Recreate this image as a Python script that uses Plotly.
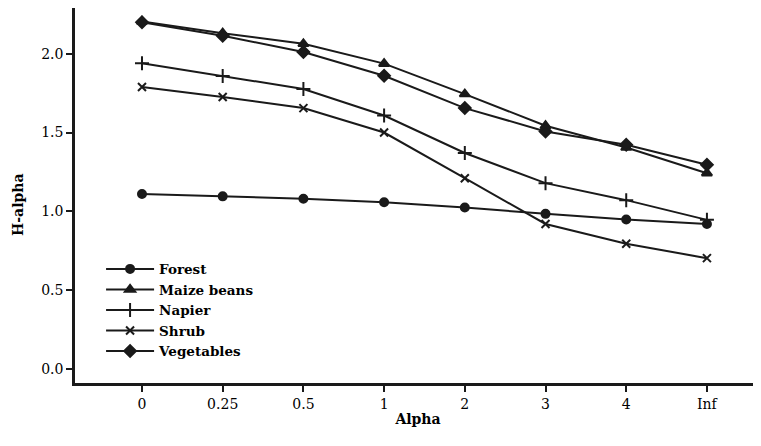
import plotly.graph_objects as go

alpha_labels = ["0", "0.25", "0.5", "1", "2", "3", "4", "Inf"]
forest = [1.11, 1.095, 1.08, 1.058, 1.024, 0.984, 0.948, 0.92]
maize_beans = [2.205, 2.13, 2.063, 1.937, 1.744, 1.543, 1.405, 1.242]
napier = [1.94, 1.858, 1.776, 1.608, 1.37, 1.179, 1.071, 0.946]
shrub = [1.789, 1.725, 1.655, 1.50, 1.21, 0.92, 0.794, 0.703]
vegetables = [2.20, 2.114, 2.011, 1.86, 1.655, 1.507, 1.422, 1.295]

series = [
    ("Forest", forest, "circle", 8),
    ("Maize beans", maize_beans, "triangle-up", 9),
    ("Napier", napier, "cross-thin", 10),
    ("Shrub", shrub, "x-thin", 8),
    ("Vegetables", vegetables, "diamond", 9),
]

col = "#1a1a1a"
fig = go.Figure()
for name, vals, sym, sz in series:
    fig.add_trace(go.Scatter(
        x=list(range(len(alpha_labels))), y=vals, name=name,
        mode="lines+markers",
        line=dict(color=col, width=2),
        marker=dict(symbol=sym, size=sz, color=col,
                    line=dict(color=col, width=2)),
    ))

font = "DejaVu Serif"
fig.update_layout(
    width=753, height=438,
    margin=dict(l=67, r=0, t=0, b=63),
    paper_bgcolor="white", plot_bgcolor="white",
    font=dict(family=font, size=14, color="black"),
    showlegend=True,
    legend=dict(x=0.038, y=0.345, xanchor="left", yanchor="top",
                bgcolor="rgba(0,0,0,0)",
                font=dict(family=font, size=13.5, color="black", weight="bold"),
                tracegroupgap=0, itemwidth=48),
    xaxis=dict(
        tickmode="array", tickvals=list(range(len(alpha_labels))),
        ticktext=alpha_labels, range=[-0.83, 7.67],
        showgrid=False, zeroline=False,
        showline=True, linecolor=col, linewidth=2.5,
        ticks="outside", ticklen=6, tickwidth=2, tickcolor=col,
        tickfont=dict(family=font, size=14),
        title=dict(text="Alpha", font=dict(family=font, size=14, weight="bold"), standoff=4),
    ),
    yaxis=dict(
        range=[-0.089, 2.29], tickvals=[0, 0.5, 1.0, 1.5, 2.0],
        tickformat=".1f",
        showgrid=False, zeroline=False,
        showline=True, linecolor=col, linewidth=2.5,
        ticks="outside", ticklen=6, tickwidth=2, tickcolor=col,
        tickfont=dict(family=font, size=14),
    ),
    annotations=[dict(
        text="H-alpha", textangle=-90, xref="paper", yref="paper",
        x=-0.083, y=0.475, xanchor="center", yanchor="middle",
        showarrow=False, font=dict(family=font, size=14, weight="bold"),
    )],
)

fig.write_html("out.html")
